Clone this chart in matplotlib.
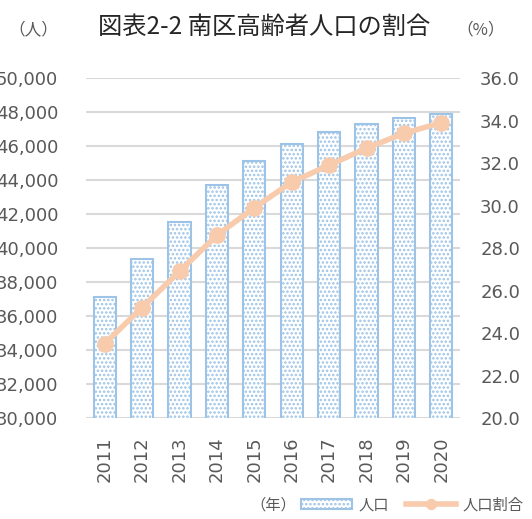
import matplotlib.pyplot as plt
import numpy as np

plt.rcParams['font.family'] = ['DejaVu Sans', 'Noto Sans CJK JP']
plt.rcParams['hatch.linewidth'] = 1.2

years = ['2011', '2012', '2013', '2014', '2015', '2016', '2017', '2018', '2019', '2020']
population = [37100, 39350, 41530, 43700, 45120, 46100, 46800, 47300, 47630, 47880]
ratio = [23.5, 25.2, 26.9, 28.6, 29.9, 31.1, 31.9, 32.7, 33.4, 33.9]

left_ticks = [30000, 32000, 34000, 36000, 38000, 40000, 42000, 44000, 46000, 48000, 50000]
right_ticks = [20.0, 22.0, 24.0, 26.0, 28.0, 30.0, 32.0, 34.0, 36.0]

bar_color = '#9DC3E6'
line_color = '#F8CBAD'
text_color = '#595959'
jp = ['Noto Sans CJK JP', 'DejaVu Sans']

fig = plt.figure(figsize=(5.32, 5.19), dpi=100)
ax1 = fig.add_axes([0.1617, 0.1946, 0.703, 0.655])

x = np.arange(len(years))
bars = ax1.bar(x, population, width=0.59, color='white', edgecolor=bar_color,
               hatch='....', linewidth=1.5, label='人口', zorder=2)
ax1.set_ylim(30000, 50000)
ax1.set_xlim(-0.5, len(years) - 0.5)
ax1.set_yticks(left_ticks)
ax1.set_yticklabels([f'{v:,}' for v in left_ticks])
ax1.set_xticks(x)
ax1.set_xticklabels(years, rotation=90)
ax1.grid(axis='y', color='#D9D9D9', linewidth=1.5, zorder=0)
ax1.set_axisbelow(True)
for s in ax1.spines.values():
    s.set_visible(False)
ax1.tick_params(axis='both', length=0, colors=text_color, labelsize=13)
ax1.tick_params(axis='y', pad=20)
ax1.tick_params(axis='x', pad=13)

ax2 = ax1.twinx()
ax2.plot(x, ratio, color=line_color, linewidth=4, marker='o', markersize=11,
         label='人口割合', zorder=3)
ax2.set_ylim(20, 36)
ax2.set_yticks(right_ticks)
ax2.set_yticklabels([f'{v:.1f}' for v in right_ticks])
for s in ax2.spines.values():
    s.set_visible(False)
ax2.tick_params(axis='y', length=0, colors=text_color, labelsize=13, pad=14.5)

fig.text(0.496, 0.948, '図表2-2 南区高齢者人口の割合', ha='center', va='center',
         fontsize=17.5, color='#262626', family=jp)
fig.text(0.062, 0.942, '（人）', ha='center', va='center', fontsize=12, color=text_color, family=jp)
fig.text(0.904, 0.942, '（%）', ha='center', va='center', fontsize=12, color=text_color, family=jp)
fig.text(0.513, 0.027, '（年）', ha='center', va='center', fontsize=11, color=text_color, family=jp)

handles = [bars, ax2.get_lines()[0]]
fig.legend(handles, ['人口', '人口割合'], loc='center left', bbox_to_anchor=(0.566, 0.027),
           ncol=2, frameon=False, prop={'family': jp, 'size': 11}, labelcolor=text_color,
           handlelength=3.3, handletextpad=0.45, columnspacing=1.1, borderpad=0,
           borderaxespad=0, markerscale=0.65)

fig.savefig('out.png', dpi=100)
